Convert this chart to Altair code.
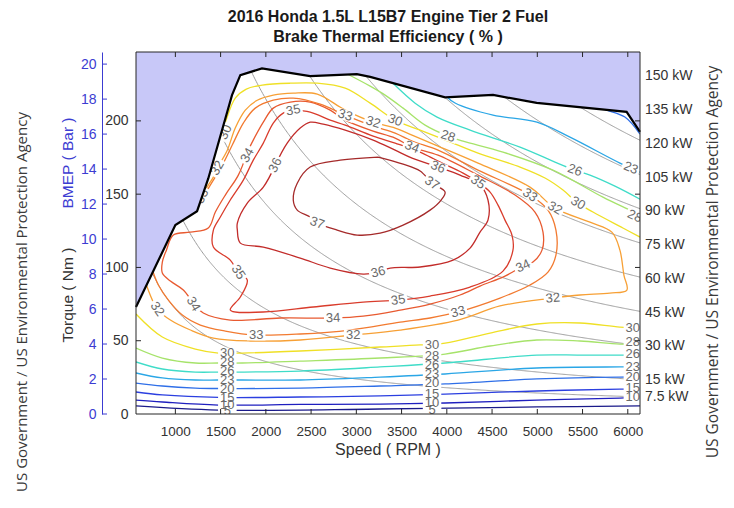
import altair as alt
import pandas as pd

# ---------------- text ----------------
TITLE_1 = "2016 Honda 1.5L L15B7 Engine Tier 2 Fuel"
TITLE_2 = "Brake Thermal Efficiency ( % )"
X_TITLE = "Speed ( RPM )"
Y_TITLE = "Torque ( Nm )"
Y2_TITLE = "BMEP ( Bar )"
WATERMARK = "US Government / US Environmental Protection Agency"

# ---------------- scales / ticks ----------------
RPM_DOMAIN = [565, 6135]
NM_DOMAIN = [0, 247]
NM_PER_BAR = 11.937  # 1.5 L four-stroke: torque per bar of BMEP
RPM_TICKS = [1000, 1500, 2000, 2500, 3000, 3500, 4000, 4500, 5000, 5500, 6000]
NM_TICKS = [0, 50, 100, 150, 200]
BAR_TICKS = [0, 2, 4, 6, 8, 10, 12, 14, 16, 18, 20]

# constant power lines
POWER_KW = [7.5, 15, 30, 45, 60, 75, 90, 105, 120, 135, 150]
POWER_TEXT = ["7.5 kW", "15 kW", "30 kW", "45 kW", "60 kW", "75 kW", "90 kW",
              "105 kW", "120 kW", "135 kW", "150 kW"]
POWER_LABEL_RPM = 6220

# wide open throttle line
WOT_RPM = [565, 1000, 1240, 1364, 1626, 1718, 1957, 2490, 3006, 3153, 3981, 4511, 4993, 5987, 6135]
WOT_NM = [73, 128.9, 138.4, 160.7, 217.6, 231.2, 235.8, 230.5, 231.9, 230, 216, 217.7, 212.3, 206.2, 192.5]

# efficiency levels
LEVELS = [5, 10, 15, 20, 23, 26, 28, 30, 32, 33, 34, 35, 36, 37]
LEVEL_COLORS = ["#1a1a8a", "#1f1fbf", "#2b3fe0", "#2f6fe8", "#2aa6e6", "#3fdcc8", "#a6e36a",
                "#efe026", "#f7a035", "#f27a30", "#e85a30", "#d93c2c", "#c22c2a", "#a52a2a"]

# contour lines (rpm, Nm)
C37 = [(3241, 175.3), (3517, 170.5), (3705, 165.8), (3837, 157.5), (3981, 151.4), (3937, 146),
       (3815, 139.1), (3517, 128.9), (3263, 123.4), (3009, 122.1), (2788, 125.5), (2568, 130.3),
       (2490, 134.4), (2347, 139.1), (2303, 146), (2347, 157.5), (2490, 168.5), (2822, 173.2), (3241, 175.3)]
C36 = [(2104, 169.8), (2236, 184.8), (2380, 195.1), (2490, 199.1), (2634, 197.8), (2877, 193.7),
       (3186, 186.9), (3429, 180), (3616, 174.6), (3903, 168.5), (4146, 163), (4367, 156.2),
       (4455, 146), (4455, 132.3), (4367, 124.1), (4257, 113.2), (4069, 105), (3705, 100.3),
       (3374, 99.6), (3241, 96.8), (3076, 95.5), (2711, 99.6), (2380, 106.4), (1972, 113.9),
       (1718, 116.6), (1685, 125.5), (1685, 130.3), (1795, 143.9), (1972, 154.8), (2104, 169.8)]
C35 = [(2303, 207.3), (2490, 206), (2711, 200.5), (2877, 197.1), (3186, 189.6), (3429, 184.8),
       (3705, 178.7), (3903, 172.5), (4180, 164.4), (4345, 158.2), (4478, 151.4), (4566, 142.5),
       (4643, 132.3), (4720, 122.1), (4731, 111.8), (4621, 97.5), (4257, 86.6), (3815, 80.5),
       (3462, 77.7), (3076, 76.4), (2524, 73), (1972, 69.6), (1607, 70.9), (1718, 79.8),
       (1795, 91.4), (1696, 96.8), (1607, 105), (1420, 113.9), (1420, 125.5), (1497, 134.4),
       (1607, 146), (1751, 159.6), (1861, 173.2), (1972, 184.8), (2082, 198.5), (2192, 205.3), (2303, 207.3)]
C34 = [(1795, 178.7), (1861, 186.9), (1972, 199.1), (2082, 208.7), (2270, 212.8), (2490, 212.8),
       (2711, 207.3), (2877, 200.5), (3186, 193), (3429, 188.2), (3616, 182.1), (3903, 176.6),
       (4345, 163), (4754, 149.4), (4974, 137.8), (5063, 124.1), (5052, 111.8), (4952, 103.7),
       (4842, 100.9), (4643, 94.1), (4367, 87.3), (4146, 81.2), (3815, 75), (3484, 70.9),
       (3076, 66.8), (2744, 65.5), (2159, 65.5), (1607, 64.1), (1309, 68.9), (1199, 75.7),
       (1088, 84.6), (945, 90.7), (856, 96.2), (856, 103.7), (901, 111.8), (978, 122.1),
       (1166, 124.1), (1364, 126.9), (1442, 137.8), (1552, 149.4), (1696, 163), (1795, 178.7)]
C33 = [(1287, 146), (1386, 156.2), (1519, 169.8), (1629, 183.5), (1751, 198.5), (1883, 208.7),
       (2082, 214.1), (2303, 215.5), (2601, 211.4), (2877, 203.9), (3186, 196.4), (3429, 191.6),
       (3616, 186.2), (3903, 180), (4345, 166.4), (4919, 149.4), (5118, 139.1), (5206, 125.5),
       (5206, 108.4), (5118, 96.8), (4919, 88), (4588, 79.1), (4124, 69.6), (3815, 65.5),
       (3484, 62.7), (2932, 57.3), (2380, 54.6), (1883, 53.9), (1552, 56.6), (1276, 60.7),
       (1077, 67.5), (923, 77.7), (812, 88), (746, 98.2)]
C32 = [(1254, 141.2), (1331, 152.8), (1420, 161.6), (1464, 167.8), (1574, 180), (1662, 195.1),
       (1773, 207.3), (1905, 214.1), (2082, 217.6), (2303, 218.9), (2568, 218.3), (2877, 207.3),
       (3186, 199.1), (3429, 195.1), (3616, 190.3), (3903, 182.8), (4345, 171.2), (4919, 154.8),
       (5195, 140.5), (5582, 130.9), (5824, 124.1), (5913, 111.8), (5957, 94.8), (5990, 84.6),
       (5802, 82.5), (5472, 81.2), (5173, 79.1), (4588, 73.7), (4124, 64.1), (3484, 57.3),
       (2965, 53.9), (2380, 50.5), (1828, 49.8), (1420, 51.8), (1166, 57.3), (945, 64.1),
       (801, 71.6), (746, 77.7), (680, 88)]
C30_UP = [(1420, 175.3), (1552, 199.1), (1662, 215.5), (1784, 221.7), (1960, 224.4), (2270, 225.7),
          (2568, 225.7), (2877, 222.3), (3153, 212.1), (3429, 200.5), (3705, 193.7), (4014, 186.2),
          (4345, 178), (4809, 168.5), (5085, 161), (5284, 152.8), (5449, 143.9), (5615, 137.8),
          (5946, 126.9), (6135, 120.7)]
C28_UP = [(2900, 232), (3153, 223.7), (3318, 217.6), (3517, 208.7), (3760, 197.1), (4014, 189.6),
          (4180, 186.2), (4621, 178.7), (5173, 166.4), (5725, 148), (6023, 139.1), (6135, 135.7)]
C26_UP = [(3400, 226), (3650, 212.1), (3892, 202.6), (4257, 193.7), (4809, 182.1), (5195, 171.9),
          (5416, 166.4), (5582, 163), (5858, 155.5), (6135, 146.6)]
C23_UP = [(3990, 217), (4091, 212.2), (4511, 203.9), (4996, 199.1), (5361, 188.9), (5913, 171.2), (6135, 165)]
C20_UP = [(5700, 209), (5769, 207.3), (5968, 202.6), (6135, 191)]
C30_LO = [(565, 68.2), (856, 52.5), (1221, 44.3), (1475, 41.6), (1740, 41.6), (2380, 43), (3263, 45.7),
          (3705, 47.1), (3981, 48.4), (4478, 55.2), (4996, 61.4), (5472, 62.1), (5913, 59.3), (6135, 58.7)]
C28_LO = [(565, 45), (856, 38.2), (1221, 34.8), (1475, 34.8), (1740, 34.8), (2380, 36.1), (3263, 38.2),
          (3981, 40.9), (4478, 46.4), (4996, 50.5), (5472, 49.8), (5913, 47.7), (6135, 47.7)]
C26_LO = [(565, 35.5), (856, 30.7), (1221, 28.6), (1475, 28.6), (1740, 28.6), (2380, 29.3), (3263, 32.1),
          (3981, 34.8), (4996, 40.2), (5472, 40.2), (5913, 40.2), (6135, 40.2)]
C23_LO = [(565, 28), (856, 24.6), (1221, 23.2), (1475, 23.2), (1740, 23.2), (2380, 23.2), (3263, 25.2),
          (3981, 27.3), (4996, 31.4), (5913, 32.1), (6135, 32.1)]
C20_LO = [(565, 21.1), (856, 19.1), (1221, 17.7), (1475, 17.4), (2380, 17.7), (3263, 19.1), (3981, 20.5),
          (4996, 23.9), (5913, 25.2), (6135, 25.2)]
C15 = [(565, 15), (856, 13), (1475, 11.3), (2380, 11.6), (3263, 12.3), (3981, 13.6), (4996, 15.7),
       (5913, 17), (6135, 17)]
C10 = [(565, 9.5), (856, 8.2), (1475, 6.1), (2380, 6.5), (3263, 6.8), (3981, 7.5), (4996, 9.5),
       (5913, 10.9), (6135, 11.2)]
C5 = [(565, 5.5), (1475, 2.7), (3263, 3.4), (4996, 4.8), (6135, 5.5)]

SEGMENTS = [(37, C37), (36, C36), (35, C35), (34, C34), (33, C33), (32, C32),
            (30, C30_UP), (28, C28_UP), (26, C26_UP), (23, C23_UP), (20, C20_UP),
            (30, C30_LO), (28, C28_LO), (26, C26_LO), (23, C23_LO), (20, C20_LO),
            (15, C15), (10, C10), (5, C5)]

# contour labels
LABEL_LEVEL = [30, 32, 34, 36, 35, 33, 32, 30, 28, 34, 36, 37, 35, 33, 32, 30, 26, 23, 28,
               37, 36, 35, 35, 34, 34, 33, 32, 33, 34, 32, 32, 33,
               30, 28, 26, 23, 20, 15, 10, 5,
               30, 28, 26, 23, 20, 15, 10, 5,
               30, 28, 26, 23, 20, 15, 10]
LABEL_RPM = [1552, 1464, 1795, 2104, 2303, 2877, 3186, 3429, 4014, 3616, 3903, 3837, 4345, 4919, 5195, 5449, 5416, 6034, 6078,
             2568, 3241, 1696, 3462, 1199, 2744, 1894, 2965, 4124, 4842, 5173, 801, 1295,
             1574, 1574, 1574, 1574, 1574, 1574, 1574, 1574,
             3837, 3837, 3837, 3837, 3837, 3837, 3837, 3837,
             6056, 6056, 6056, 6056, 6056, 6056, 6056]
LABEL_NM = [192.3, 167.8, 176.6, 169.8, 207.3, 203.9, 199.1, 200.5, 189.6, 182.1, 168.5, 157.5, 158.2, 149.4, 140.5, 143.9, 166.4, 167.8, 135,
            130.3, 96.8, 96.8, 77.7, 75, 65.5, 53.9, 53.9, 69.6, 100.9, 79.1, 71.6, 148.5,
            41.6, 35.5, 29.3, 23.2, 17, 10.9, 6.1, 2.0,
            47.1, 39.6, 33.4, 27.3, 21.1, 13.6, 7.5, 2.7,
            58.7, 49.1, 40.9, 32.1, 25.2, 17.7, 11.6]
LABEL_ANGLE = [295, 300, 300, 295, 350, 18, 18, 20, 18, 22, 22, 35, 35, 35, 30, 30, 20, 22, 25,
               20, 345, 55, 352, 60, 358, 0, 0, 344, 335, 355, 55, 295,
               0, 0, 0, 0, 0, 0, 0, 0,
               0, 0, 0, 0, 0, 0, 0, 0,
               0, 0, 0, 0, 0, 0, 0]

# ---------------- styling ----------------
FONT = "Liberation Sans"
TXT = "#333333"
BLUE = "#3c3cd2"
FILL = "#c8c8f8"
W, H = 504, 362

# ---------------- tables ----------------
rows = []
for sid, (lev, pts) in enumerate(SEGMENTS):
    for i, (r, t) in enumerate(pts):
        rows.append({"seg": sid, "level": lev, "i": i, "rpm": r, "nm": t})
contours = pd.DataFrame(rows)
labels = pd.DataFrame({"level": LABEL_LEVEL, "rpm": LABEL_RPM, "nm": LABEL_NM, "angle": LABEL_ANGLE})
labels["label"] = labels["level"].astype(str)
wot = pd.DataFrame({"rpm": WOT_RPM, "nm": WOT_NM})
power = pd.DataFrame({"kw": POWER_KW, "label": POWER_TEXT})

xs = alt.Scale(domain=RPM_DOMAIN, nice=False, zero=False)
ys = alt.Scale(domain=NM_DOMAIN, nice=False, zero=False)
x_axis = alt.Axis(values=RPM_TICKS, title=None, grid=False, ticks=False, tickSize=0, domain=False,
                  labelPadding=10, labelFont=FONT, labelFontSize=13.5, labelColor=TXT, format="d",
                  labelFlush=False, labelOverlap=False)
y_axis = alt.Axis(values=NM_TICKS, title=None, grid=False, ticks=False, tickSize=0, domain=False,
                  labelPadding=8, labelFont=FONT, labelFontSize=14, labelColor=TXT,
                  labelFlush=False, labelOverlap=False)
X = alt.X("rpm:Q", scale=xs, axis=x_axis)
Y = alt.Y("nm:Q", scale=ys, axis=y_axis, stack=None)

power_lines = alt.Chart(power).transform_calculate(
    rpm=f"sequence({RPM_DOMAIN[0]}, {RPM_DOMAIN[1] + 5}, 10)"
).transform_flatten(["rpm"]).transform_calculate(
    nm="datum.kw * 60000 / (2 * PI * datum.rpm)"
).mark_line(color="#9d9d9d", strokeWidth=1, clip=True).encode(x=X, y=Y, detail="kw:N")

lines = alt.Chart(contours).mark_line(strokeWidth=1.3, clip=True, interpolate="catmull-rom").encode(
    x=X, y=Y, detail="seg:N", order="i:Q",
    color=alt.Color("level:O", scale=alt.Scale(domain=LEVELS, range=LEVEL_COLORS), legend=None))

masks = alt.Chart(labels).mark_point(
    shape="M -1 -0.58 L 1 -0.58 L 1 0.58 L -1 0.58 Z", filled=True, fill="white", opacity=1,
    size=340, strokeWidth=0, clip=True).encode(x=X, y=Y, angle=alt.Angle("angle:Q", scale=None))

label_text = alt.Chart(labels).mark_text(
    font=FONT, fontSize=13, color="#6a6a6a", align="center", baseline="middle", clip=True).encode(
    x=X, y=Y, text="label:N", angle=alt.Angle("angle:Q", scale=None))

blue_area = alt.Chart(wot).mark_area(color=FILL, opacity=1).encode(
    x=X, y=Y, y2=alt.datum(NM_DOMAIN[1]))
wot_line = alt.Chart(wot).mark_line(color="black", strokeWidth=2.2).encode(x=X, y=Y)

xt = pd.DataFrame({"rpm": RPM_TICKS})
yt = pd.DataFrame({"nm": NM_TICKS[1:]})
tick_b = alt.Chart(xt).mark_rule(color="#262626").encode(x=X, y=alt.value(H), y2=alt.value(H - 5))
tick_t = alt.Chart(xt).mark_rule(color="#262626").encode(x=X, y=alt.value(0), y2=alt.value(5))
tick_l = alt.Chart(yt).mark_rule(color="#262626").encode(y=Y, x=alt.value(0), x2=alt.value(5))
tick_r = alt.Chart(yt).mark_rule(color="#262626").encode(y=Y, x=alt.value(W), x2=alt.value(W - 5))

frame = alt.Chart(pd.DataFrame({"a": [0]})).mark_rect(
    fillOpacity=0, stroke="#262626", strokeWidth=1).encode(
    x=alt.value(0), x2=alt.value(W), y=alt.value(0), y2=alt.value(H))

power_labels = alt.Chart(power).transform_calculate(
    nm=f"datum.kw * 60000 / (2 * PI * {POWER_LABEL_RPM})"
).mark_text(font=FONT, fontSize=14, color=TXT, align="left", baseline="middle").encode(
    x=alt.value(W + 5), y=Y, text="label:N")


def text_mark(txt, x, y, **kw):
    return alt.Chart(pd.DataFrame({"t": [txt]})).mark_text(**kw).encode(
        x=alt.value(x), y=alt.value(y), text="t:N")


title1 = text_mark(TITLE_1, W / 2, -35, font=FONT, fontSize=16, fontWeight="bold", color="#1a1a1a",
                   align="center", baseline="middle")
title2 = text_mark(TITLE_2, W / 2, -15, font=FONT, fontSize=16, fontWeight="bold", color="#1a1a1a",
                   align="center", baseline="middle")
xtitle = text_mark(X_TITLE, W / 2, 398, font=FONT, fontSize=16, color=TXT, align="center", baseline="middle")
ytitle = text_mark(Y_TITLE, -68, 243, font=FONT, fontSize=15.5, color=TXT, align="center",
                   baseline="middle", angle=270)
y2title = text_mark(Y2_TITLE, -68, 111, font=FONT, fontSize=15.5, color=BLUE, align="center",
                    baseline="middle", angle=270)
wm_left = text_mark(WATERMARK, -114, 250, font="Open Sans", fontSize=15, color="#3a3a3a",
                    align="center", baseline="middle", angle=270)
wm_right = text_mark(WATERMARK, 577, 210, font="Open Sans", fontSize=15.5, color="#3a3a3a",
                     align="center", baseline="middle", angle=270)

main = alt.layer(power_lines, lines, masks, label_text, blue_area, wot_line,
                 tick_b, tick_t, tick_l, tick_r, frame, power_labels,
                 title1, title2, xtitle, ytitle, y2title, wm_left, wm_right)

bmep = alt.Chart(pd.DataFrame({"bar": BAR_TICKS})).mark_rule(color=BLUE, strokeWidth=1).encode(
    y=alt.Y("bar:Q", scale=alt.Scale(domain=[0, NM_DOMAIN[1] / NM_PER_BAR], nice=False, zero=False),
            axis=alt.Axis(orient="left", offset=34, values=BAR_TICKS, title=None, grid=False,
                          ticks=False, tickSize=0, domain=True, domainColor=BLUE, domainWidth=1,
                          labelPadding=6, labelFont=FONT, labelFontSize=14, labelColor=BLUE,
                          labelFlush=False, labelOverlap=False)),
    x=alt.value(-34), x2=alt.value(-29))

chart = alt.layer(main, bmep).resolve_scale(y="independent").properties(
    width=W, height=H,
    autosize=alt.AutoSizeParams(type="none"),
    padding={"left": 128, "top": 44, "right": 86, "bottom": 86},
    background="white",
).configure_view(stroke=None)

chart.save("out.html", embed_options={"renderer": "svg", "actions": False})
